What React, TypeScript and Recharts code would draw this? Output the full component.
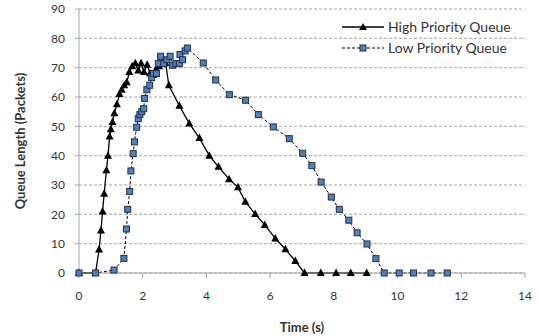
import React from 'react';
import { LineChart, Line, XAxis, YAxis, CartesianGrid, Legend, Label } from 'recharts';

const highTime = [0, 0.52, 0.63, 0.69, 0.74, 0.79, 0.86, 0.91, 0.96, 1.0, 1.05, 1.11, 1.19, 1.27, 1.34, 1.42, 1.5, 1.58, 1.67, 1.77, 1.86, 1.95, 2.04, 2.14, 2.23, 2.32, 2.42, 2.52, 2.62, 2.72, 2.82, 3.15, 3.46, 3.78, 4.09, 4.38, 4.71, 4.99, 5.22, 5.53, 5.83, 6.16, 6.48, 6.79, 7.08, 7.59, 8.07, 8.53, 9.03];
const highQueue = [0, 0, 8, 14.5, 21, 27, 35, 40, 46.5, 49, 51.5, 54.5, 57.5, 61, 62.5, 64, 65, 68.5, 70.5, 71.5, 69, 71.5, 68.5, 71, 68, 67.5, 69.5, 70.5, 72, 71.5, 64, 57, 51, 46, 40, 36.2, 32, 29.2, 24.3, 20.1, 16.4, 11.8, 8.1, 4.1, 0, 0, 0, 0, 0];

const lowTime = [0, 0.52, 1.1, 1.41, 1.49, 1.53, 1.59, 1.63, 1.7, 1.74, 1.81, 1.86, 1.91, 1.97, 2.03, 2.06, 2.13, 2.22, 2.28, 2.34, 2.43, 2.49, 2.56, 2.66, 2.76, 2.86, 2.94, 3.04, 3.15, 3.17, 3.25, 3.33, 3.4, 3.9, 4.29, 4.72, 5.23, 5.63, 6.1, 6.6, 7.02, 7.31, 7.6, 7.92, 8.17, 8.47, 8.73, 9.04, 9.32, 9.58, 10.05, 10.5, 11.05, 11.56];
const lowQueue = [0, 0, 1, 5, 15, 21.7, 27.8, 34.8, 40.7, 44.7, 49.7, 52.6, 54, 55, 56, 59.5, 62.5, 64, 66.6, 68, 68, 71.4, 73.9, 71.4, 72.7, 73.9, 70.8, 71.4, 71.4, 74.5, 72.7, 75.7, 76.7, 71.6, 65.8, 60.8, 58.9, 54, 49.8, 45.8, 40.8, 36.6, 31, 25.9, 21.7, 18, 13.7, 9.9, 4.9, 0, 0, 0, 0, 0];

const xTicks = [0, 2, 4, 6, 8, 10, 12, 14];
const yTicks = [0, 10, 20, 30, 40, 50, 60, 70, 80, 90];

const seriesNames = ['High Priority Queue', 'Low Priority Queue'];

const highData = highTime.map((t, i) => ({ t, v: highQueue[i] }));
const lowData = lowTime.map((t, i) => ({ t, v: lowQueue[i] }));

const FONT = 'Lato, "Liberation Sans", sans-serif';
const TEXT = '#333333';
const AXIS = '#a6a6a6';
const BLUE = '#4f81bd';

const TriangleDot = (p: any) => {
  const { cx, cy, index } = p;
  if (cx == null || cy == null) return <g key={`t${index}`} />;
  return (
    <polygon
      key={`t${index}`}
      points={`${cx},${cy - 4.5} ${cx - 4},${cy + 3} ${cx + 4},${cy + 3}`}
      fill="#000"
    />
  );
};

const SquareDot = (p: any) => {
  const { cx, cy, index } = p;
  if (cx == null || cy == null) return <g key={`s${index}`} />;
  return (
    <rect key={`s${index}`} x={cx - 3} y={cy - 3} width={6} height={6} fill={BLUE} stroke="#1f2f45" strokeWidth={1} />
  );
};

const LegendContent = () => (
  <svg width={200} height={50} style={{ overflow: 'visible' }}>
    <g>
      <line x1={0} y1={10} x2={42} y2={10} stroke="#000" strokeWidth={1.3} />
      <polygon points="21,6 17,13 25,13" fill="#000" />
      <text x={46} y={10} dy="0.35em" fontFamily={FONT} fontSize={14} fill={TEXT}>{seriesNames[0]}</text>
    </g>
    <g>
      <line x1={0} y1={31} x2={42} y2={31} stroke="#000" strokeWidth={1} strokeDasharray="3 2" />
      <rect x={18} y={28} width={6} height={6} fill={BLUE} stroke="#1f2f45" />
      <text x={46} y={31} dy="0.35em" fontFamily={FONT} fontSize={14} fill={TEXT}>{seriesNames[1]}</text>
    </g>
  </svg>
);

export default function App() {
  return (
    <div style={{ position: 'absolute', left: 0, top: 0 }}>
      <LineChart width={539} height={336} margin={{ top: 9, right: 14, bottom: 0, left: 0 }}>
        <CartesianGrid horizontal vertical={false} stroke="#a0a0a0" strokeDasharray="3 2" />
        <XAxis
          type="number"
          dataKey="t"
          domain={[0, 14]}
          ticks={xTicks}
          interval={0}
          height={63}
          stroke={AXIS}
          tickSize={5}
          tickMargin={13}
          tick={{ fill: TEXT, fontFamily: FONT, fontSize: 12 }}
        >
          <Label value="Time (s)" position="insideBottom" offset={4} style={{ fontFamily: FONT, fontSize: 13, fontWeight: 'bold', fill: TEXT }} />
        </XAxis>
        <YAxis
          type="number"
          domain={[0, 90]}
          ticks={yTicks}
          interval={0}
          width={79}
          stroke={AXIS}
          tickSize={4}
          tickMargin={10}
          tick={{ fill: TEXT, fontFamily: FONT, fontSize: 12 }}
        >
          <Label value="Queue Length (Packets)" angle={-90} position="insideLeft" offset={20} style={{ fontFamily: FONT, fontSize: 13, fontWeight: 'bold', fill: TEXT, textAnchor: 'middle' }} />
        </YAxis>
        <Legend
          layout="horizontal"
          verticalAlign="middle"
          align="center"
          content={LegendContent}
          wrapperStyle={{ left: 342, top: 17, width: 200, height: 50 }}
        />
        <Line
          data={highData}
          dataKey="v"
          name={seriesNames[0]}
          stroke="#000"
          strokeWidth={1.3}
          dot={TriangleDot}
          activeDot={false}
          isAnimationActive={false}
        />
        <Line
          data={lowData}
          dataKey="v"
          name={seriesNames[1]}
          stroke="#000"
          strokeWidth={1}
          strokeDasharray="3 2"
          dot={SquareDot}
          activeDot={false}
          isAnimationActive={false}
        />
      </LineChart>
    </div>
  );
}
